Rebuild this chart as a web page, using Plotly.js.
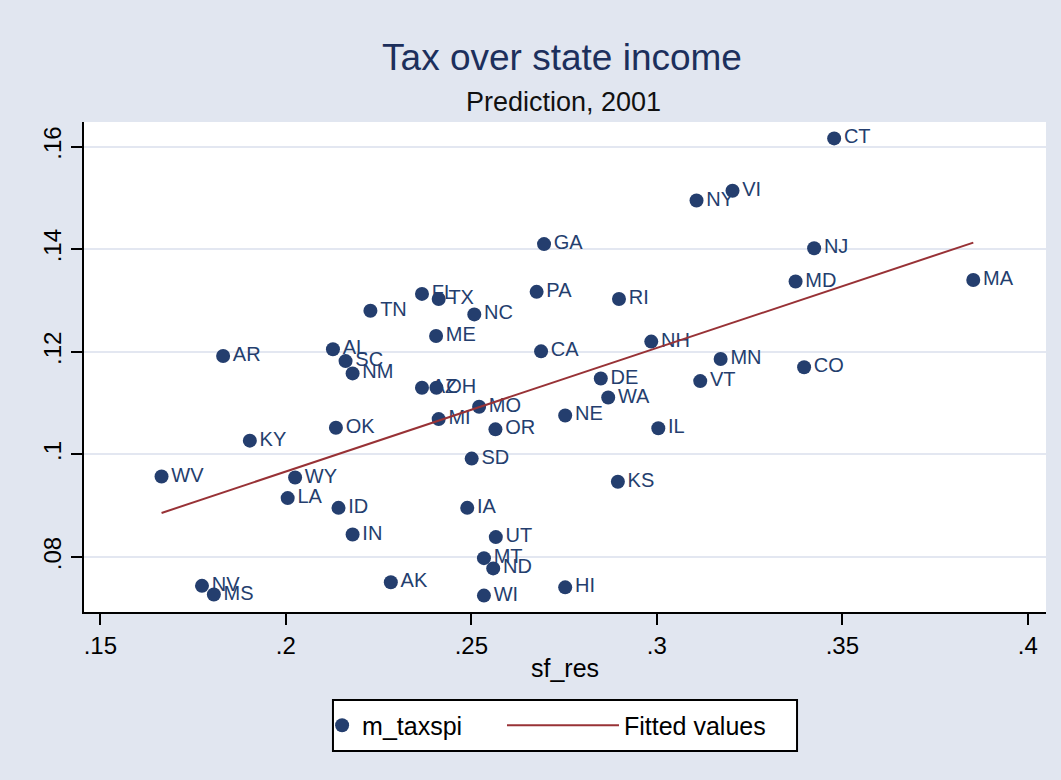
<!DOCTYPE html>
<html>
<head>
<meta charset="utf-8">
<script src="https://cdn.plot.ly/plotly-3.0.1.min.js"></script>
<style>html,body{margin:0;padding:0;background:#e1e6f0;}#chart{width:1061px;height:780px;}</style>
</head>
<body>
<div id="chart"></div>
<script>
// State codes
const states = ["AR","AL","SC","TN","FL","TX","NC","ME","GA","PA","CA","CT","NY","VI","NJ","MD","MA","RI","NH","NM","AZ","OH","MO","MI","OK","OR","KY","SD","WV","WY","LA","ID","IA","IN","UT","MT","ND","AK","NV","MS","WI","MN","CO","DE","VT","WA","NE","IL","KS","HI"];
// sf_res (x)
const sfRes = [0.1831,0.2127,0.2161,0.2228,0.2367,0.2412,0.2508,0.2405,0.2696,0.2676,0.2688,0.3478,0.3107,0.3204,0.3424,0.3374,0.3853,0.2898,0.2985,0.2180,0.2367,0.2406,0.2521,0.2412,0.2135,0.2565,0.1903,0.2501,0.1665,0.2025,0.2005,0.2142,0.2489,0.2180,0.2566,0.2534,0.2559,0.2283,0.1774,0.1806,0.2534,0.3172,0.3397,0.2849,0.3117,0.2869,0.2753,0.3004,0.2895,0.2753];
// m_taxspi (y)
const mTaxspi = [0.1192,0.1205,0.1182,0.1280,0.1313,0.1303,0.1273,0.1231,0.1410,0.1317,0.1201,0.1616,0.1495,0.1514,0.1402,0.1337,0.1340,0.1303,0.1220,0.1158,0.1130,0.1130,0.1093,0.1069,0.1052,0.1049,0.1027,0.0992,0.0957,0.0955,0.0915,0.0896,0.0896,0.0844,0.0839,0.0798,0.0778,0.0751,0.0744,0.0727,0.0725,0.1186,0.1170,0.1148,0.1143,0.1111,0.1076,0.1051,0.0947,0.0741];
// Fitted values (endpoints)
const fitX = [0.1665, 0.3853];
const fitY = [0.0886, 0.1413];
// Ticks
const xTickVals = [0.15,0.2,0.25,0.3,0.35,0.4];
const xTickText = [".15",".2",".25",".3",".35",".4"];
const yTickVals = [0.08,0.1,0.12,0.14,0.16];
const yTickText = [".08",".1",".12",".14",".16"];

const navy = "#243e6e";
const font = "Liberation Sans, Arial, sans-serif";

const traces = [
  {
    x: sfRes, y: mTaxspi, text: states, name: "m_taxspi",
    type: "scatter", mode: "markers+text", textposition: "middle right",
    marker: {color: navy, size: 14},
    textfont: {family: font, size: 20, color: navy},
    cliponaxis: false, legend: "legend"
  },
  {
    x: fitX, y: fitY, name: "Fitted values", type: "scatter", mode: "lines",
    line: {color: "#983236", width: 2}, legend: "legend2"
  }
];

const legendCommon = {
  orientation: "h", yanchor: "middle", y: -0.2316, xanchor: "left",
  bgcolor: "rgba(0,0,0,0)", borderwidth: 0,
  font: {family: font, size: 25, color: "#000"}
};

const layout = {
  width: 1061, height: 780,
  paper_bgcolor: "#e1e6f0", plot_bgcolor: "#ffffff",
  margin: {l: 84, r: 15, t: 122, b: 168},
  font: {family: font, color: "#000"},
  title: {text: "Tax over state income", x: 0.5297, xanchor: "center", y: 0.927, yanchor: "middle",
          font: {family: font, size: 37, color: "#1c2f5c"}},
  annotations: [{text: "Prediction, 2001", xref: "paper", yref: "paper", x: 0.498, y: 1.04,
                 xanchor: "center", yanchor: "middle", showarrow: false, font: {family: font, size: 27, color: "#111"}}],
  shapes: [{type: "rect", xref: "paper", yref: "paper", x0: 0.2588, x1: 0.7412, y0: -0.1796, y1: -0.2837,
            line: {color: "#000", width: 2}, fillcolor: "#ffffff", layer: "below"}],
  xaxis: {
    range: [0.1456, 0.4049], tickvals: xTickVals, ticktext: xTickText,
    showgrid: false, zeroline: false, showline: true, linecolor: "#000", linewidth: 2,
    ticks: "outside", ticklen: 11, tickwidth: 2, tickcolor: "#000",
    tickfont: {family: font, size: 24, color: "#000"},
    title: {text: "sf_res", font: {family: font, size: 25, color: "#000"}, standoff: 2}
  },
  yaxis: {
    range: [0.0693, 0.1648], tickvals: yTickVals, ticktext: yTickText,
    showgrid: true, gridcolor: "#e3e7f1", gridwidth: 2,
    zeroline: false, showline: true, linecolor: "#000", linewidth: 2,
    ticks: "outside", ticklen: 11, tickwidth: 2, tickcolor: "#000", tickangle: -90,
    tickfont: {family: font, size: 24, color: "#000"}
  },
  showlegend: true,
  legend: Object.assign({}, legendCommon, {x: 0.2475, itemwidth: 30}),
  legend2: Object.assign({}, legendCommon, {x: 0.4345, itemwidth: 112})
};

Plotly.newPlot("chart", traces, layout, {displayModeBar: false});
</script>
</body>
</html>
